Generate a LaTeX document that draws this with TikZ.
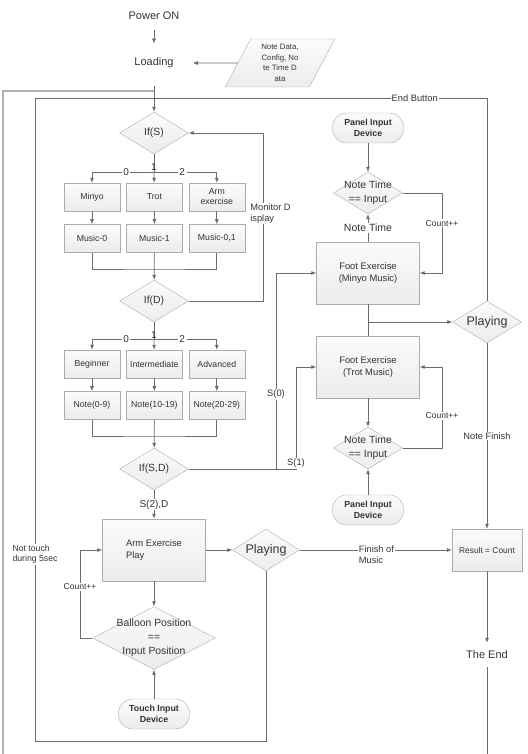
\documentclass[tikz,border=0pt]{standalone}
\usepackage{fontspec}
\setmainfont{Liberation Sans}
\usetikzlibrary{arrows.meta, positioning, shapes.geometric}

\begin{document}
\begin{tikzpicture}[
    x=1pt, y=-1pt,
    node distance=13pt and 6pt,
    every node/.style={text=black!80},
    box/.style={rectangle, draw=gray!65, top color=gray!3, bottom color=gray!15, align=center, minimum width=56pt, minimum height=28pt, inner sep=1pt, font=\fontsize{8.7}{10}\selectfont},
    bigbox/.style={box, minimum width=103pt, minimum height=62pt, font=\fontsize{9.4}{12}\selectfont},
    decision/.style={diamond, draw=gray!65, top color=gray!3, bottom color=gray!15, inner sep=0pt, minimum width=69pt, minimum height=42pt},
    dtext/.style={align=center, font=\fontsize{10.4}{14}\selectfont},
    device/.style={rectangle, rounded corners=14pt, draw=gray!65, top color=gray!3, bottom color=gray!15, align=center, minimum width=71pt, minimum height=30pt, inner sep=1pt, font=\bfseries\fontsize{8.8}{11}\selectfont},
    txt/.style={inner sep=8pt, font=\fontsize{11}{13}\selectfont},
    lbl/.style={fill=white, inner sep=1pt, font=\fontsize{9.3}{11}\selectfont},
    num/.style={fill=white, inner sep=1.5pt, font=\fontsize{10}{12}\selectfont},
    conn/.style={draw=gray!85!black, line width=0.7pt},
    arrow/.style={conn, -{Latex[length=5pt, width=4pt]}}
]
\useasboundingbox (0,0) rectangle (527,754);

% start
\node[txt] (power) at (154,16) {Power ON};
\node[txt] (loading) at (154,63) {Loading};
\node[trapezium, trapezium left angle=62, trapezium right angle=118, draw=gray!65, top color=gray!3, bottom color=gray!15,
      minimum height=48pt, inner xsep=6.4pt, inner ysep=2pt, align=center, font=\fontsize{7.8}{10.5}\selectfont] (data) at (280,63) {Note Data,\\Config, No\\te Time D\\ata};

% song selection
\node[decision, label={[dtext]center:If(S)}] (ifs) at (154,133) {};
\node[box] (minyo) at (92,197) {Minyo};
\node[box, right=of minyo] (trot) {Trot};
\node[box, right=of trot] (armsel) {Arm\\exercise};
\node[box, below=of minyo] (music0) {Music-0};
\node[box, below=of trot] (music1) {Music-1};
\node[box, below=of armsel] (music01) {Music-0,1};

% level selection
\node[decision, label={[dtext]center:If(D)}] (ifd) at (154,301) {};
\node[box] (beginner) at (92,364) {Beginner};
\node[box, right=of beginner] (inter) {Intermediate};
\node[box, right=of inter] (adv) {Advanced};
\node[box, below=of beginner] (note0) {Note(0-9)};
\node[box, below=of inter] (note1) {Note(10-19)};
\node[box, below=of adv] (note2) {Note(20-29)};
\node[decision, label={[dtext]center:If(S,D)}] (ifsd) at (154,469) {};

% arm exercise
\node[bigbox, align=left] (armex) at (154,550) {Arm Exercise\\Play};
\node[decision, minimum width=67pt, label={[dtext, font=\fontsize{12.5}{14}\selectfont]center:Playing}] (play2) at (266,550) {};
\node[decision, minimum width=123pt, minimum height=63pt, label={[dtext]center:Balloon Position\\==\\Input Position}] (balloon) at (154,638) {};
\node[device] (touch) at (154,714) {Touch Input\\Device};

% foot exercise
\node[device] (panel1) at (368,128) {Panel Input\\Device};
\node[decision, label={[dtext]center:Note Time\\== Input}] (nt1) at (368,193) {};
\node[bigbox] (footm) at (368,273) {Foot Exercise\\(Minyo Music)};
\node[bigbox] (foott) at (368,367) {Foot Exercise\\(Trot Music)};
\node[decision, label={[dtext]center:Note Time\\== Input}] (nt2) at (368,448) {};
\node[device] (panel2) at (368,510) {Panel Input\\Device};
\node[decision, label={[dtext, font=\fontsize{12.5}{14}\selectfont]center:Playing}] (play1) at (487,322) {};
\node[box, minimum width=70pt, minimum height=42pt, font=\fontsize{8.4}{10}\selectfont] (result) at (487,550) {Result = Count};
\node[txt] (theend) at (487,655) {The End};

\coordinate (topleft) at (3,91);
\coordinate (botleft) at (3,754);
\coordinate (loopbl) at (35,741);
\coordinate (looptl) at (35,98);
\coordinate (s0) at (276,469);
\coordinate (s1) at (296,469);

\draw[arrow, shorten <=2pt, shorten >=6pt] (power) -- (loading);
\draw[arrow, shorten >=11pt] (data) -- (loading);
\draw[arrow, shorten <=10pt] (loading) -- (ifs);
\draw[conn, line width=1.3pt, draw=gray!60] (loading |- topleft) -- (topleft) -- (botleft);

\draw[conn] (ifs) -- node[num, fill=none, pos=0.75]{1} (ifs |- 0,172) coordinate (br1);
\draw[arrow] (br1) -| node[num, pos=0.225]{0} (minyo);
\draw[arrow] (br1) -- (trot);
\draw[arrow] (br1) -| node[num, pos=0.225]{2} (armsel);
\foreach \a/\b in {minyo/music0, trot/music1, armsel/music01}
    \draw[arrow] (\a) -- (\b);
\draw[conn] (music0) |- (music1 |- 0,269) -| (music01);
\draw[arrow] (music1) -- (ifd);
\draw[arrow] (ifd) -- (ifd -| 263,0) |- node[lbl, pos=0.26, anchor=west, xshift=-14pt, align=left]{Monitor D\\isplay} (ifs);

\draw[conn] (ifd) -- node[num, fill=none, pos=0.75]{1} (ifd |- 0,339) coordinate (br2);
\draw[arrow] (br2) -| node[num, pos=0.225]{0} (beginner);
\draw[arrow] (br2) -- (inter);
\draw[arrow] (br2) -| node[num, pos=0.225]{2} (adv);
\foreach \a/\b in {beginner/note0, inter/note1, adv/note2}
    \draw[arrow] (\a) -- (\b);
\draw[conn] (note0) |- (note1 |- 0,436) -| (note2);
\draw[arrow] (note1) -- (ifsd);

\draw[conn] (ifsd) -- (s0);
\draw[arrow] (s0) |- node[lbl, pos=0.19]{S(0)} (footm);
\draw[arrow] (s0) -- (s1) |- node[lbl, pos=0, anchor=south]{S(1)} (foott);
\draw[arrow] (ifsd) -- node[lbl, font=\fontsize{10}{12}\selectfont]{S(2),D} (armex);

\draw[arrow] (armex) -- (play2);
\draw[arrow] (play2) -- node[lbl, pos=0.38, anchor=west, yshift=-5pt, align=left]{Finish of\\Music} (result);
\draw[arrow] (armex) -- (balloon);
\draw[arrow] (touch) -- (balloon);
\draw[arrow] (balloon) -| node[lbl, pos=0.79, font=\fontsize{8.5}{10}\selectfont]{Count++} (armex -| 80,0) -- (armex);
\draw[conn] (play2) |- (loopbl) -- node[lbl, pos=0.29, align=left, font=\fontsize{8.7}{10}\selectfont]{Not touch\\during 5sec} (looptl)
    -| node[lbl, pos=0.42]{End Button} (play1);

\draw[arrow] (panel1) -- (nt1);
\draw[arrow] (footm) -- node[lbl, font=\fontsize{10.5}{12}\selectfont]{Note Time} (nt1);
\draw[arrow] (nt1) -| node[lbl, pos=0.69, font=\fontsize{8.5}{10}\selectfont]{Count++} (footm -| 442,0) -- (footm);
\draw[conn] (footm) -- (foott);
\draw[arrow] (footm |- play1) -- (play1);
\draw[arrow] (foott) -- (nt2);
\draw[arrow] (panel2) -- (nt2);
\draw[arrow] (nt2) -| node[lbl, pos=0.7, font=\fontsize{8.5}{10}\selectfont]{Count++} (foott -| 442,0) -- (foott);
\draw[arrow] (play1) -- node[lbl]{Note Finish} (result);
\draw[arrow] (result) -- (theend);
\draw[conn] (theend) -- (theend |- botleft);
\end{tikzpicture}
\end{document}
